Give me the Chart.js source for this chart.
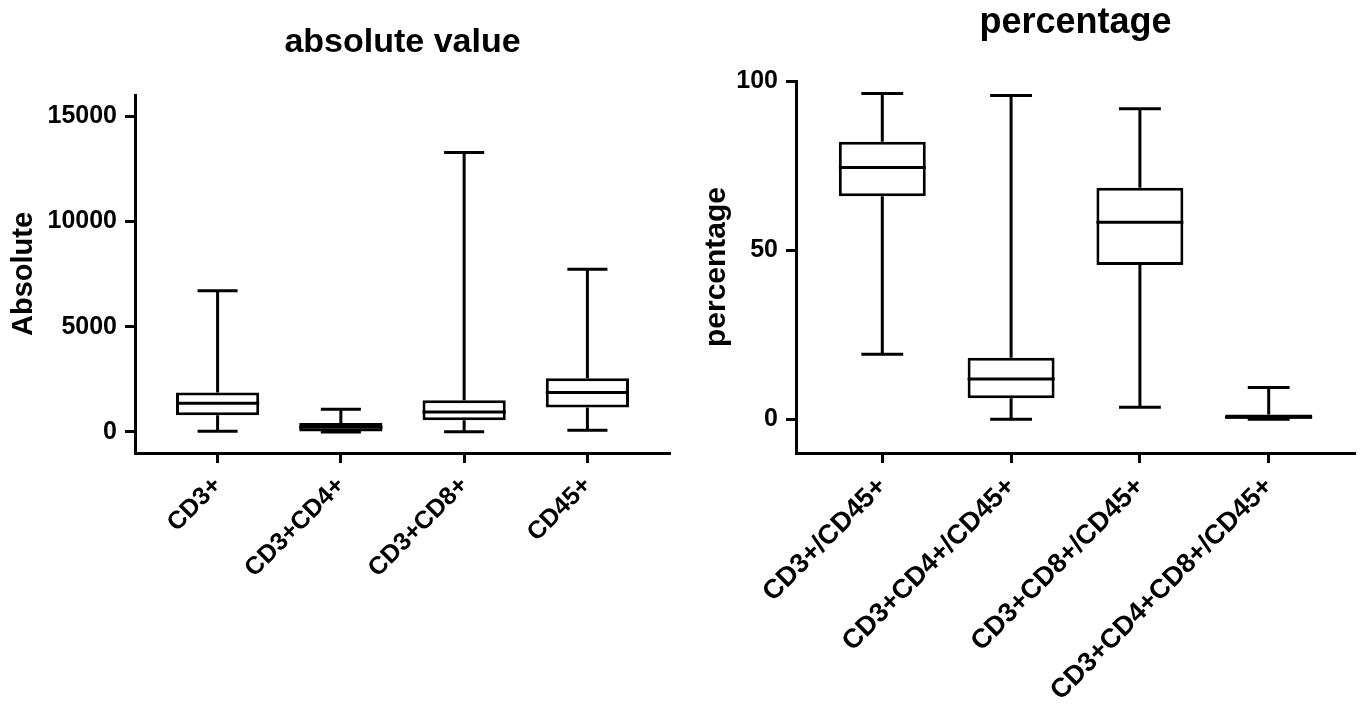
<!DOCTYPE html>
<html>
<head>
<meta charset="utf-8">
<script src="https://cdn.jsdelivr.net/npm/chart.js@4.4.1/dist/chart.umd.min.js"></script>
<style>
  html, body { margin: 0; padding: 0; background: #fff; }
  .wrap { position: absolute; top: 0; height: 709px; }
</style>
</head>
<body>
<div class="wrap" style="left:0;width:680px"><canvas id="abs-chart" width="680" height="709"></canvas></div>
<div class="wrap" style="left:680px;width:681px"><canvas id="pct-chart" width="681" height="709"></canvas></div>
<script>
// absolute value panel
const absLabels = ['CD3+', 'CD3+CD4+', 'CD3+CD8+', 'CD45+'];
const absMin = [30, 0, 10, 80];
const absQ1 = [790, 20, 555, 1160];
const absMedian = [1360, 220, 950, 1870];
const absQ3 = [1870, 420, 1500, 2550];
const absMax = [6700, 1080, 13270, 7730];
const absTicks = [0, 5000, 10000, 15000];

// percentage panel
const pctLabels = ['CD3+/CD45+', 'CD3+CD4+/CD45+', 'CD3+CD8+/CD45+', 'CD3+CD4+CD8+/CD45+'];
const pctMin = [19.2, 0, 3.5, 0];
const pctQ1 = [65.9, 6.2, 45.6, 0];
const pctMedian = [74.4, 11.9, 58.2, 0.6];
const pctQ3 = [82.0, 18.2, 68.4, 1.4];
const pctMax = [96.3, 95.7, 91.8, 9.4];
const pctTicks = [0, 50, 100];

const FONT = "'Liberation Sans', Arial, Helvetica, sans-serif";
const BOX_HALF = 0.3375;   // half box width in category units
const CAP_HALF = 0.1625;   // half whisker cap width

// whiskers, medians and the panel title
function boxPlugin(stats, title, titleY, titleSize) {
  return {
    id: 'boxExtras',
    afterDatasetsDraw(chart) {
      const ctx = chart.ctx;
      const xs = chart.scales.x, ys = chart.scales.y;
      ctx.save();
      ctx.strokeStyle = '#000';
      ctx.lineWidth = 3;
      ctx.lineCap = 'butt';
      stats.min.forEach((mn, i) => {
        const cx = xs.getPixelForValue(i);
        const capL = xs.getPixelForValue(i - CAP_HALF), capR = xs.getPixelForValue(i + CAP_HALF);
        const boxL = xs.getPixelForValue(i - BOX_HALF), boxR = xs.getPixelForValue(i + BOX_HALF);
        const yMin = ys.getPixelForValue(mn), yMax = ys.getPixelForValue(stats.max[i]);
        const yQ1 = ys.getPixelForValue(stats.q1[i]), yQ3 = ys.getPixelForValue(stats.q3[i]);
        const yMed = ys.getPixelForValue(stats.median[i]);
        ctx.beginPath();
        ctx.moveTo(cx, yMax); ctx.lineTo(cx, yQ3);
        ctx.moveTo(cx, yQ1); ctx.lineTo(cx, yMin);
        ctx.moveTo(capL, yMax); ctx.lineTo(capR, yMax);
        ctx.moveTo(capL, yMin); ctx.lineTo(capR, yMin);
        ctx.moveTo(boxL, yMed); ctx.lineTo(boxR, yMed);
        ctx.stroke();
      });
      const area = chart.chartArea;
      ctx.fillStyle = '#000';
      ctx.font = 'bold ' + titleSize + 'px ' + FONT;
      ctx.textAlign = 'center';
      ctx.textBaseline = 'alphabetic';
      ctx.fillText(title, (area.left + area.right) / 2, titleY);
      ctx.restore();
    }
  };
}

function makeChart(id, opts) {
  const stats = { min: opts.min, q1: opts.q1, median: opts.median, q3: opts.q3, max: opts.max };
  const data = {
    datasets: [{
      data: opts.labels.map((_, i) => ({ x: i, y: [opts.q1[i], opts.q3[i]] })),
      backgroundColor: '#fff',
      borderColor: '#000',
      borderWidth: 3,
      borderSkipped: false,
      categoryPercentage: 1,
      barPercentage: BOX_HALF * 2
    }]
  };
  const config = {
    type: 'bar',
    data: data,
    options: {
      responsive: false,
      animation: false,
      layout: { padding: { top: opts.top, right: opts.right, left: 0, bottom: 0 } },
      plugins: { legend: { display: false }, tooltip: { enabled: false }, title: { display: false } },
      scales: {
        x: {
          type: 'linear',
          min: -0.67,
          max: 3.67,
          offset: false,
          afterBuildTicks: (s) => { s.ticks = opts.labels.map((_, i) => ({ value: i })); },
          afterFit: (s) => { s.height = opts.xHeight; },
          grid: { offset: false, drawOnChartArea: false, drawTicks: true, tickLength: 10, tickWidth: 3, tickColor: '#000' },
          border: { display: true, color: '#000', width: 3 },
          ticks: {
            autoSkip: false,
            minRotation: 45,
            maxRotation: 45,
            padding: 8,
            color: '#000',
            font: { family: FONT, size: opts.xFont, weight: 'bold' },
            callback: (v) => opts.labels[v]
          }
        },
        y: {
          min: opts.yMin,
          max: opts.yMax,
          afterBuildTicks: (s) => { s.ticks = opts.ticks.map(v => ({ value: v })); },
          afterFit: (s) => { s.width = opts.yWidth; },
          grid: { drawOnChartArea: false, drawTicks: true, tickLength: 10, tickWidth: 3, tickColor: '#000' },
          border: { display: true, color: '#000', width: 3 },
          ticks: { padding: 8, color: '#000', font: { family: FONT, size: 25, weight: 'bold' }, callback: (v) => String(v) },
          title: {
            display: true,
            text: opts.yTitle,
            color: '#000',
            font: { family: FONT, size: opts.yTitleFont, weight: 'bold', lineHeight: 1.2 },
            padding: { top: opts.yTitlePad, bottom: 0 }
          }
        }
      }
    },
    plugins: [boxPlugin(stats, opts.title, opts.titleY, opts.titleFont)]
  };
  return new Chart(document.getElementById(id).getContext('2d'), config);
}

makeChart('abs-chart', {
  labels: absLabels, min: absMin, q1: absQ1, median: absMedian, q3: absQ3, max: absMax,
  ticks: absTicks, yMin: -1000, yMax: 16000, yTitle: 'Absolute', title: 'absolute value',
  top: 95, right: 10, xHeight: 256, yWidth: 135, yTitlePad: 7, titleY: 52,
  xFont: 25, yTitleFont: 29, titleFont: 34
});

makeChart('pct-chart', {
  labels: pctLabels, min: pctMin, q1: pctQ1, median: pctMedian, q3: pctQ3, max: pctMax,
  ticks: pctTicks, yMin: -10, yMax: 100, yTitle: 'percentage', title: 'percentage',
  top: 81, right: 6, xHeight: 256, yWidth: 116, yTitlePad: 19, titleY: 33,
  xFont: 27, yTitleFont: 30, titleFont: 36
});
</script>
</body>
</html>
